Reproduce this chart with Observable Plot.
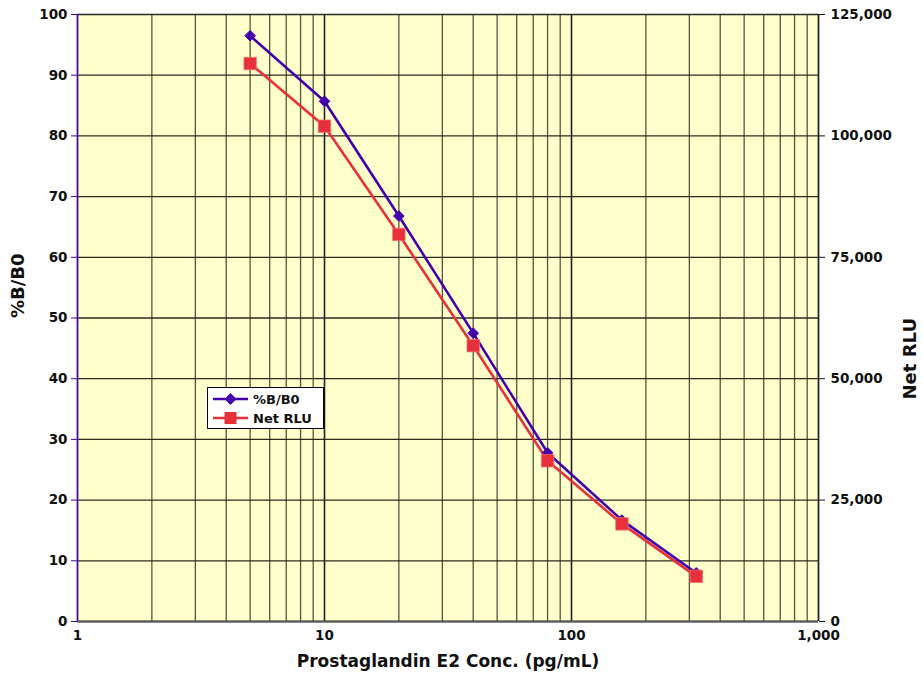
<!DOCTYPE html>
<html>
<head>
<meta charset="utf-8">
<script src="https://cdn.jsdelivr.net/npm/d3@7"></script>
<script src="https://cdn.jsdelivr.net/npm/@observablehq/plot@0.6"></script>
<style>
  html, body { margin: 0; padding: 0; background: #fff; }
  #wrap { position: relative; width: 923px; height: 681px; }
  #wrap svg text { font-weight: bold; }
  #legend { position: absolute; left: 207px; top: 387px; width: 115px; height: 40px;
    background: #fff; border: 1px solid #000; }
</style>
</head>
<body>
<div id="wrap"></div>
<script>
// Data
const conc = [5, 10, 20, 40, 80, 160, 320];
const pctB = [96.5, 85.7, 66.8, 47.5, 27.8, 16.7, 8.0];
const netRLU = [114900, 102000, 79700, 56800, 33100, 20100, 9300];
const seriesNames = ["%B/B0", "Net RLU"];
const xTicks = [1, 10, 100, 1000];
const yLeftTicks = [0, 10, 20, 30, 40, 50, 60, 70, 80, 90, 100];
const yRightTicks = [0, 25000, 50000, 75000, 100000, 125000];
const rluMax = 125000;

const purple = "#4400AA";
const red = "#E8303A";

const gridX = [];
for (const d of [1, 10, 100]) for (let k = 1; k <= 10; k++) gridX.push(d * k);
const scaleR = 100 / rluMax;

const dataB = conc.map((c, i) => ({x: c, y: pctB[i]}));
const dataR = conc.map((c, i) => ({x: c, y: netRLU[i] * scaleR}));

const chart = Plot.plot({
  width: 923,
  height: 681,
  marginLeft: 77,
  marginRight: 105,
  marginTop: 14,
  marginBottom: 60,
  style: {background: "transparent", fontFamily: "'DejaVu Sans', sans-serif", fontSize: "13.5px", fontWeight: "bold", color: "#111"},
  x: {type: "log", domain: [1, 1000]},
  y: {domain: [0, 100]},
  marks: [
    Plot.frame({fill: "#FFFFCC", stroke: "none"}),
    Plot.ruleX(gridX, {stroke: d => [1, 10, 100, 1000].includes(d) ? "#1a1a14" : "#55553c", strokeWidth: 1.3}),
    Plot.ruleY(yLeftTicks, {stroke: "#2a2a20", strokeWidth: 1.3}),
    Plot.ruleX([1], {stroke: purple, strokeWidth: 1.5}),
    Plot.ruleX([1000], {stroke: "#222", strokeWidth: 1.5}),
    Plot.ruleY([0], {stroke: "#555", strokeWidth: 2}),
    Plot.axisX({ticks: xTicks, tickFormat: d3.format(","), tickSize: 0, tickPadding: 9, label: null, fontSize: 13.5, fontWeight: "bold"}),
    Plot.axisY({anchor: "left", ticks: yLeftTicks, tickSize: 6, tickPadding: 4, stroke: purple, label: null, fontSize: 13.5, fontWeight: "bold"}),
    Plot.axisY({anchor: "right", ticks: yRightTicks.map(v => v * scaleR), tickFormat: v => d3.format(",")(Math.round(v / scaleR)), tickSize: 6, tickPadding: 6, stroke: "#111", label: null, fontSize: 13.5, fontWeight: "bold"}),
    Plot.line(dataR, {x: "x", y: "y", stroke: red, strokeWidth: 2.6}),
    Plot.line(dataB, {x: "x", y: "y", stroke: purple, strokeWidth: 2.6}),
    Plot.dot(dataB, {x: "x", y: "y", symbol: "diamond2", r: 4.8, fill: purple, stroke: purple, strokeWidth: 1}),
    Plot.dot(dataR, {x: "x", y: "y", symbol: "square", r: 7, fill: red, stroke: "#f07070", strokeWidth: 0.8}),
    Plot.text([seriesNames[0]], {frameAnchor: "left", dx: -59, rotate: -90, fontSize: 18, fontWeight: "bold", fill: "#111"}),
    Plot.text([seriesNames[1]], {frameAnchor: "right", dx: 92, rotate: -90, fontSize: 18, fontWeight: "bold", fill: "#111"}),
    Plot.text(["Prostaglandin E2 Conc. (pg/mL)"], {frameAnchor: "bottom", dy: 45, fontSize: 17, fontWeight: "bold", fill: "#111"})
  ]
});

const wrap = document.getElementById("wrap");
wrap.appendChild(chart);

const leg = document.createElement("div");
leg.id = "legend";
leg.innerHTML = `
<svg width="115" height="40" style="position:absolute;left:0;top:0">
  <line x1="5" x2="40" y1="11" y2="11" stroke="${purple}" stroke-width="2.6"/>
  <path d="M22.5,5 L28.5,11 L22.5,17 L16.5,11 Z" fill="${purple}"/>
  <line x1="5" x2="40" y1="30" y2="30" stroke="${red}" stroke-width="2.6"/>
  <rect x="16.5" y="24" width="12" height="12" fill="${red}"/>
  <text x="45" y="15.5" font-family="DejaVu Sans" font-weight="bold" font-size="13" fill="#111">${seriesNames[0]}</text>
  <text x="45" y="34.5" font-family="DejaVu Sans" font-weight="bold" font-size="13" fill="#111">${seriesNames[1]}</text>
</svg>`;
wrap.appendChild(leg);
</script>
</body>
</html>
